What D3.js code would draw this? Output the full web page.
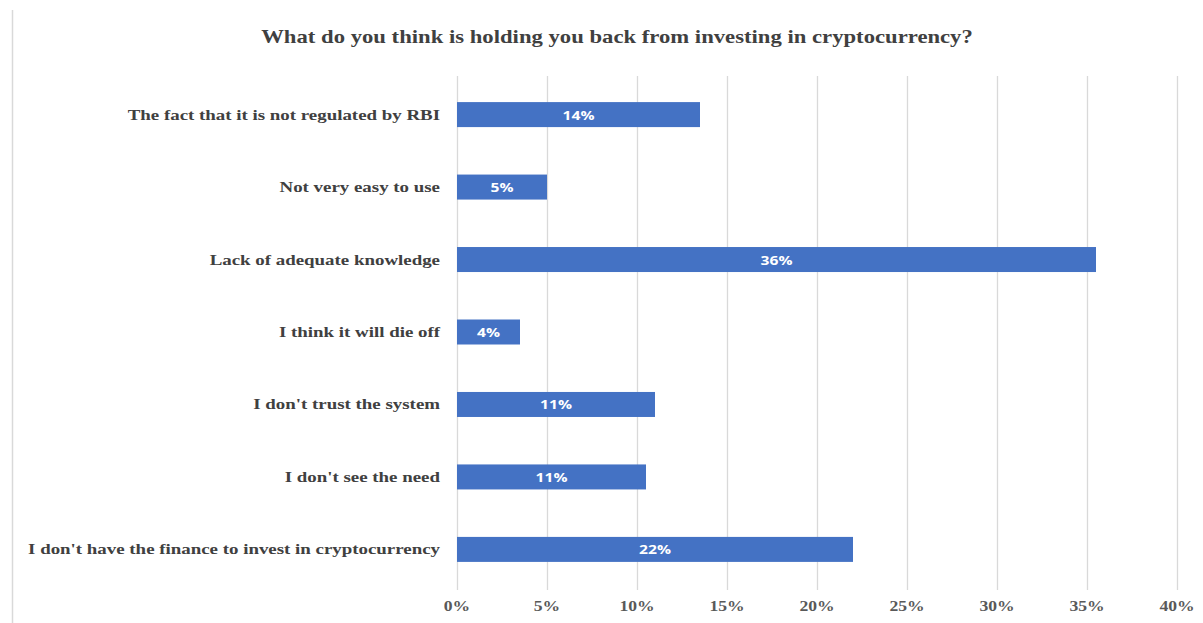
<!DOCTYPE html>
<html>
<head>
<meta charset="utf-8">
<script src="https://cdn.jsdelivr.net/npm/d3@7/dist/d3.min.js"></script>
<style>
  html, body { margin: 0; padding: 0; background: #ffffff; }
  svg { display: block; }
</style>
</head>
<body>
<svg id="chart" width="1203" height="623"></svg>
<script>
// Survey responses (percent of respondents)
const chartTitle = "What do you think is holding you back from investing in cryptocurrency?";
const reasons = [
  "The fact that it is not regulated by RBI",
  "Not very easy to use",
  "Lack of adequate knowledge",
  "I think it will die off",
  "I don't trust the system",
  "I don't see the need",
  "I don't have the finance to invest in cryptocurrency"
];
const shares = [13.5, 5.0, 35.5, 3.5, 11.0, 10.5, 22.0];
const xTicks = [0, 5, 10, 15, 20, 25, 30, 35, 40];

const W = 1203, H = 623;
const plot = { left: 457, right: 1177, top: 76, bottom: 590 };
const serif = "'Liberation Serif', 'Times New Roman', serif";
const stretch = 1.26; // wide serif lettering

const svg = d3.select("#chart");

const x = d3.scaleLinear().domain([0, 40]).range([plot.left, plot.right]);
const y = d3.scaleBand().domain(reasons).range([76, 588])
  .paddingInner(0.655).paddingOuter(0.36);

// chart frame edge
svg.append("line")
  .attr("x1", 12.5).attr("x2", 12.5).attr("y1", 10).attr("y2", H)
  .attr("stroke", "#d9d9d9").attr("stroke-width", 1.5);

// title
svg.append("text")
  .attr("transform", `translate(617,43) scale(${stretch},1)`)
  .attr("text-anchor", "middle")
  .style("font-family", serif).style("font-weight", "bold").style("font-size", "18px")
  .attr("fill", "#404040")
  .text(chartTitle);

// vertical gridlines
const xAxis = d3.axisBottom(x).tickValues(xTicks).tickSize(-(plot.bottom - plot.top)).tickFormat("");
const gx = svg.append("g").attr("transform", `translate(0,${plot.bottom})`).call(xAxis);
gx.select(".domain").remove();
gx.selectAll(".tick line").attr("stroke", "#d9d9d9").attr("stroke-width", 1.3);

// tick labels
svg.append("g").selectAll("text").data(xTicks).join("text")
  .attr("transform", d => `translate(${x(d)},611) scale(${stretch},1)`)
  .attr("text-anchor", "middle")
  .style("font-family", serif).style("font-weight", "bold").style("font-size", "14px")
  .attr("fill", "#595959")
  .text(d => d + "%");

// category labels
svg.append("g").selectAll("text").data(reasons).join("text")
  .attr("transform", d => `translate(440,${y(d) + y.bandwidth() / 2 + 5}) scale(${stretch},1)`)
  .attr("text-anchor", "end")
  .style("font-family", serif).style("font-weight", "bold").style("font-size", "15px")
  .attr("fill", "#404040")
  .text(d => d);

const rows = reasons.map((r, i) => ({ reason: r, value: shares[i] }));

// bars
svg.append("g").selectAll("rect").data(rows).join("rect")
  .attr("x", x(0))
  .attr("y", d => y(d.reason))
  .attr("width", d => x(d.value) - x(0))
  .attr("height", y.bandwidth())
  .attr("fill", "#4472c4");

// value labels inside bars
svg.append("g").selectAll("text").data(rows).join("text")
  .attr("transform", d => `translate(${(x(0) + x(d.value)) / 2},${y(d.reason) + y.bandwidth() / 2 + 5}) scale(1.2,1)`)
  .attr("text-anchor", "middle")
  .style("font-family", "'Open Sans', 'Liberation Sans', sans-serif")
  .style("font-weight", "bold").style("font-size", "13px")
  .attr("fill", "#ffffff")
  .text(d => Math.round(d.value) + "%");
</script>
</body>
</html>
